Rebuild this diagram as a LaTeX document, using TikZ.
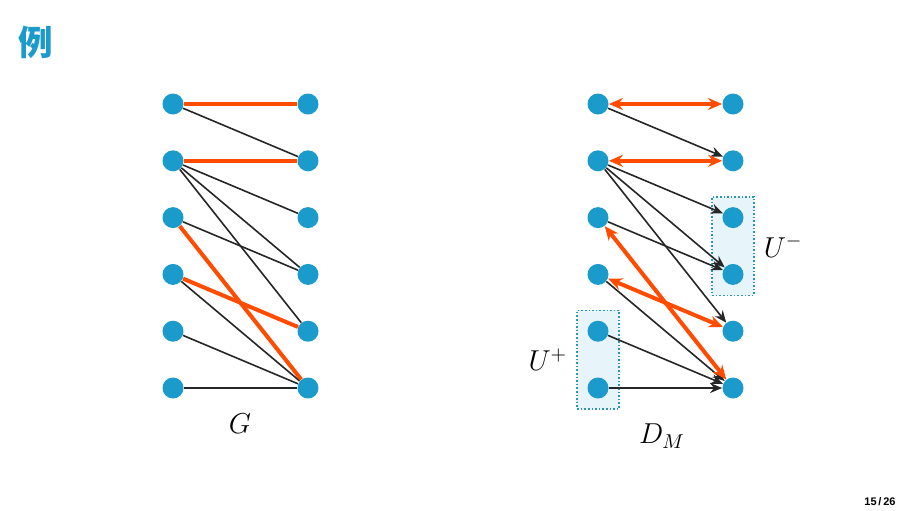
\documentclass[tikz,border=0pt]{standalone}
\usepackage{fontspec}
\newfontfamily\cjk{Noto Sans CJK SC}
\setsansfont{Liberation Sans}
\usetikzlibrary{arrows.meta,positioning,fit,backgrounds}
\definecolor{nodeblue}{RGB}{27,155,204}
\definecolor{matchorange}{RGB}{255,76,0}
\definecolor{boxline}{RGB}{40,150,180}
\definecolor{boxfill}{RGB}{231,244,250}
\tikzset{
  vtx/.style={circle,fill=nodeblue,minimum size=10.5pt,inner sep=0pt},
  plain/.style={draw=black!85,line width=0.8pt},
  matched/.style={draw=matchorange,line width=2pt},
  dir/.style={plain,-{Stealth[length=6pt,width=5pt]}},
  bidir/.style={matched,{Stealth[length=7pt,width=6pt]}-{Stealth[length=7pt,width=6pt]}},
  ubox/.style={draw=boxline,densely dotted,line width=0.8pt,fill=boxfill,inner sep=5pt},
}

\begin{document}
\begin{tikzpicture}[x=0.5pt,y=-0.5pt]
  \useasboundingbox (0,0) rectangle (907,510);
  \node[text=nodeblue,font=\cjk\LARGE\bfseries] (title) at (36,42) {例};
  \node[font=\sffamily\bfseries\fontsize{5.5}{6}\selectfont] (page) at (880,502) {15\,/\,26};

  % vertices
  \foreach \i in {1,...,6} {
    \node[vtx] (gl\i) at (173,{104+56.8*(\i-1)}) {};
    \node[vtx] (gr\i) at (308,{104+56.8*(\i-1)}) {};
    \node[vtx] (dl\i) at (598,{104+56.8*(\i-1)}) {};
    \node[vtx] (dr\i) at (733,{104+56.8*(\i-1)}) {};
  }

  % G
  \foreach \a/\b in {1/2,2/3,2/4,2/5,3/4,4/6,5/6,6/6}
    \draw[plain] (gl\a) -- (gr\b);
  \foreach \a/\b in {1/1,2/2,3/6,4/5}
    \draw[matched] (gl\a) -- (gr\b);
  \node[font=\Large] (glabel) at (240,424) {$G$};

  % D_M
  \begin{scope}[on background layer]
    \node[ubox,fit=(dl5)(dl6)] (uplus) {};
    \node[ubox,fit=(dr3)(dr4)] (uminus) {};
  \end{scope}
  \foreach \a/\b in {1/2,2/3,2/4,2/5,3/4,4/6,5/6,6/6}
    \draw[dir] (dl\a) -- (dr\b);
  \foreach \a/\b in {1/1,2/2,3/6,4/5}
    \draw[bidir] (dl\a) -- (dr\b);
  \node[font=\Large,left=1pt of uplus] (uplabel) {$U^+$};
  \node[font=\Large,right=1pt of uminus] (umlabel) {$U^-$};
  \node[font=\Large] (dlabel) at (662,436) {$D_M$};
\end{tikzpicture}
\end{document}
